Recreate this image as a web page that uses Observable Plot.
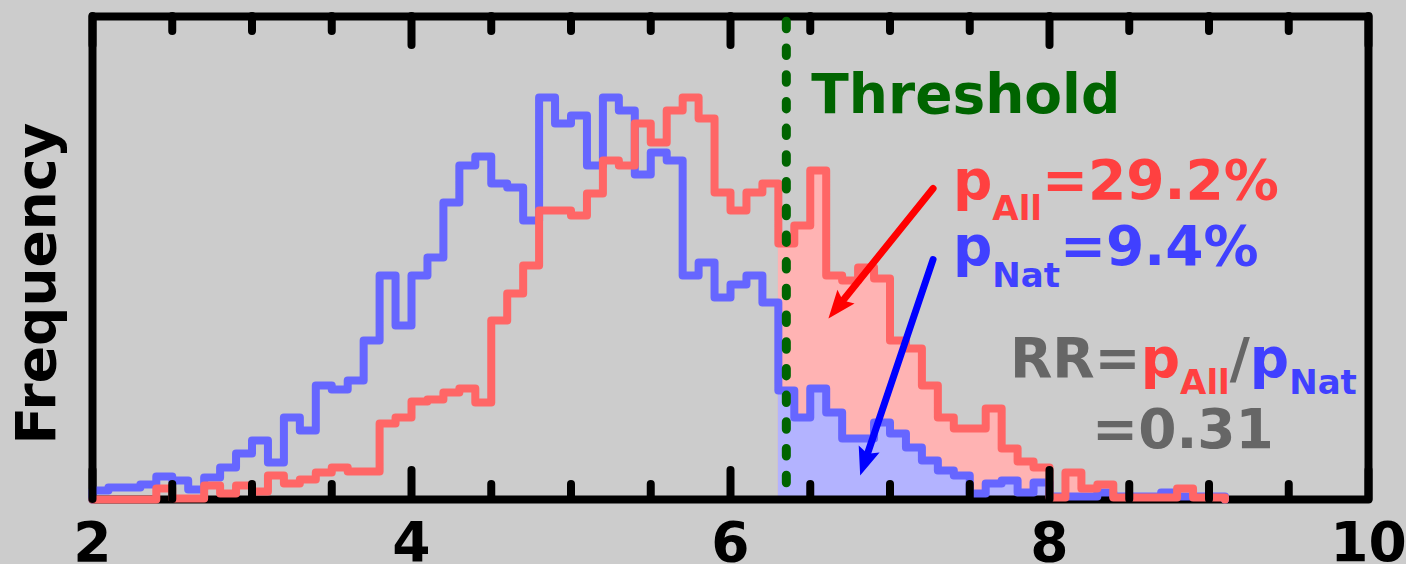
<!DOCTYPE html>
<html>
<head>
<meta charset="utf-8">
<script src="https://cdn.jsdelivr.net/npm/d3@7"></script>
<script src="https://cdn.jsdelivr.net/npm/@observablehq/plot@0.6"></script>
<style>
  html, body { margin: 0; padding: 0; background: #cccccc; }
  #chart { width: 1406px; height: 564px; overflow: hidden; }
  svg text { font-family: "DejaVu Sans", sans-serif; font-weight: bold; }
</style>
</head>
<body>
<div id="chart"></div>
<script>
// ---- data (histogram counts per 0.1-wide bin, starting at 2.0) ----
const binStart = 2.0;
const binWidth = 0.1;

const natCounts = [
  9, 12, 12, 15, 23, 19, 10, 22, 32, 46,
  59, 37, 82, 69, 114, 110, 119, 159, 224, 174,
  224, 242, 297, 334, 343, 316, 312, 279, 402, 376,
  384, 334, 402, 389, 325, 347, 339, 224, 237, 202,
  215, 224, 197, 109, 82, 111, 87, 61, 61, 77,
  66, 52, 39, 29, 24, 6, 16, 19, 7, 17,
  3, 3, 3, 7, 3, 3, 3, 7, 3, 3, 3
];

const allCounts = [
  0, 0, 0, 0, 11, 1, 1, 14, 6, 14,
  8, 24, 16, 20, 27, 32, 28, 28, 76, 82,
  98, 100, 107, 111, 97, 179, 206, 234, 289, 289,
  284, 306, 339, 334, 376, 357, 389, 402, 381, 307,
  289, 307, 316, 256, 274, 329, 224, 219, 232, 221,
  159, 151, 114, 82, 71, 71, 91, 51, 38, 32,
  2, 27, 11, 15, 2, 2, 2, 2, 11, 2, 2
];

const fillFrom = 6.3;      // shaded tail starts at this bin edge
const threshold = 6.35;    // dotted threshold line
const majorTicks = [2, 4, 6, 8, 10];
const minorTicks = [2.5, 3, 3.5, 4.5, 5, 5.5, 6.5, 7, 7.5, 8.5, 9, 9.5];

// arrows: from labels towards the tail areas (data coordinates)
const arrowNames = ["All", "Nat"];
const arrowX1 = [7.27, 7.27];
const arrowY1 = [311, 240];
const arrowX2 = [6.614, 6.813];
const arrowY2 = [181, 24];

const yLabel = "Frequency";
const thresholdLabel = "Threshold";
const pAllValue = "=29.2%";
const pNatValue = "=9.4%";
const rrValue = "=0.31";

// ---- styles ----
const C = {
  redLine: "#ff6666", blueLine: "#6666ff",
  redFill: "#ffb3b3", blueFill: "#b3b3ff",
  redText: "#ff4040", blueText: "#4040ff",
  gray: "#666666", green: "#006400",
  redArrow: "#ff0000", blueArrow: "#0000ff"
};

const W = 1406, HT = 564;
const M = {left: 92, right: 38, top: 16, bottom: 65};
const xDomain = [2, 10], yDomain = [0, 483];
const H = HT - M.top - M.bottom; // inner height
const kx = (W - M.left - M.right) / (xDomain[1] - xDomain[0]);
const ky = H / (yDomain[1] - yDomain[0]);

function stepPoints(counts) {
  const pts = [{x: binStart, y: 0}];
  counts.forEach((c, i) => pts.push({x: binStart + i * binWidth, y: c}));
  const end = binStart + counts.length * binWidth;
  pts.push({x: end, y: counts[counts.length - 1]});
  pts.push({x: end, y: 0});
  return pts;
}
function tailPoints(counts) {
  return stepPoints(counts).filter(d => d.x >= fillFrom - 1e-9);
}

const natPts = stepPoints(natCounts);
const allPts = stepPoints(allCounts);
const arrowData = arrowNames.map((n, i) => {
  const dx = (arrowX2[i] - arrowX1[i]) * kx;
  const dy = -(arrowY2[i] - arrowY1[i]) * ky;
  return {n, x1: arrowX1[i], y1: arrowY1[i], x2: arrowX2[i], y2: arrowY2[i],
          angle: Math.atan2(dx, -dy) * 180 / Math.PI};
});

// filled arrowhead symbol: tip at origin, pointing up
const arrowHead = {
  draw(context) {
    const L = 28, w = 11, notch = 23;
    context.moveTo(0, 0);
    context.lineTo(-w, L);
    context.lineTo(0, notch);
    context.lineTo(w, L);
    context.closePath();
  }
};

const plot = Plot.plot({
  width: W,
  height: HT,
  marginLeft: M.left,
  marginRight: M.right,
  marginTop: M.top,
  marginBottom: M.bottom,
  x: {domain: xDomain},
  y: {domain: yDomain, axis: null},
  style: {background: "transparent", fontFamily: "DejaVu Sans", overflow: "visible"},
  marks: [
    Plot.areaY(tailPoints(allCounts), {x: "x", y: "y", curve: "step-after", fill: C.redFill}),
    Plot.areaY(tailPoints(natCounts), {x: "x", y: "y", curve: "step-after", fill: C.blueFill}),
    Plot.frame({stroke: "black", strokeWidth: 8, strokeLinejoin: "round"}),
    Plot.lineY(natPts, {x: "x", y: "y", curve: "step-after", stroke: C.blueLine, strokeWidth: 8, strokeLinejoin: "round"}),
    Plot.lineY(allPts, {x: "x", y: "y", curve: "step-after", stroke: C.redLine, strokeWidth: 8, strokeLinejoin: "round"}),
    Plot.ruleX([threshold], {stroke: C.green, strokeWidth: 9, strokeDasharray: "7.5,19.2", strokeDashoffset: 21.4, strokeLinecap: "round"}),
    // inward ticks (bottom and top)
    Plot.tickX(majorTicks, {x: d => d, insetTop: H - 29, stroke: "black", strokeWidth: 8, strokeLinecap: "round"}),
    Plot.tickX(majorTicks, {x: d => d, insetBottom: H - 29, stroke: "black", strokeWidth: 8, strokeLinecap: "round"}),
    Plot.tickX(minorTicks, {x: d => d, insetTop: H - 15, stroke: "black", strokeWidth: 8, strokeLinecap: "round"}),
    Plot.tickX(minorTicks, {x: d => d, insetBottom: H - 15, stroke: "black", strokeWidth: 8, strokeLinecap: "round"}),
    // arrow shafts and filled heads
    Plot.arrow(arrowData, {x1: "x1", y1: "y1", x2: "x2", y2: "y2",
      stroke: d => d.n === "All" ? C.redArrow : C.blueArrow,
      strokeWidth: 7, headLength: 0, insetEnd: 18, strokeLinecap: "round"}),
    Plot.dot(arrowData, {x: "x2", y: "y2", symbol: arrowHead, rotate: "angle", r: 10,
      fill: d => d.n === "All" ? C.redArrow : C.blueArrow, stroke: "none"}),
    Plot.axisX({ticks: majorTicks, tickSize: 0, tickPadding: 22, fontSize: 55, fontWeight: "bold", fill: "black", label: null, tickFormat: d => String(d)})
  ]
});

document.getElementById("chart").appendChild(plot);

// ---- rich text annotations (positioned through the plot's scales) ----
const svg = d3.select(plot);
const sx = plot.scale("x"), sy = plot.scale("y");

const annotations = [
  {x: 6.51, y: 386, runs: [{t: thresholdLabel, c: C.green}]},
  {x: 7.398, y: 300.5, runs: [{t: "p", c: C.redText}, {t: "All", c: C.redText, sub: 21}, {t: pAllValue, c: C.redText}]},
  {x: 7.398, y: 234, runs: [{t: "p", c: C.blueText}, {t: "Nat", c: C.blueText, sub: 22}, {t: pNatValue, c: C.blueText}]},
  {x: 7.755, y: 122, runs: [{t: "RR=", c: C.gray}, {t: "p", c: C.redText}, {t: "All", c: C.redText, sub: 17},
                            {t: "/", c: C.gray}, {t: "p", c: C.blueText}, {t: "Nat", c: C.blueText, sub: 17}]},
  {x: 8.27, y: 50.7, runs: [{t: rrValue, c: C.gray}]}
];

const g = svg.append("g").attr("class", "annotations").attr("text-anchor", "start");
for (const a of annotations) {
  const text = g.append("text")
    .attr("x", sx.apply(a.x))
    .attr("y", sy.apply(a.y))
    .attr("text-anchor", "start")
    .attr("font-size", 55)
    .attr("font-weight", "bold");
  let shift = 0;
  for (const r of a.runs) {
    const sub = r.sub || 0;
    const ts = text.append("tspan").text(r.t).attr("fill", r.c)
      .attr("font-size", sub ? 34 : 55);
    const dy = sub - shift;
    if (dy !== 0) ts.attr("dy", dy);
    shift = sub;
  }
}

// y-axis label
svg.append("text")
  .attr("transform", `translate(55, ${sy.apply(215.5)}) rotate(-90)`)
  .attr("text-anchor", "middle")
  .attr("font-size", 55)
  .attr("font-weight", "bold")
  .attr("fill", "black")
  .text(yLabel);
</script>
</body>
</html>
